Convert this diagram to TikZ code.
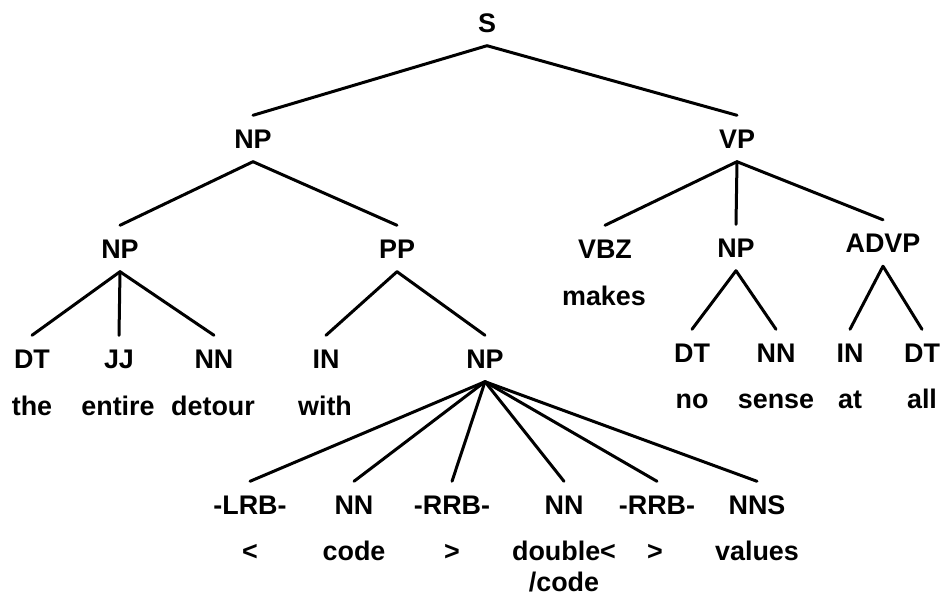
\documentclass[tikz,border=0pt]{standalone}
\usepackage{fontspec}
\setmainfont{Liberation Sans}
\begin{document}
\begin{tikzpicture}[x=1bp,y=-1bp]
\tikzset{
  lbl/.style={font=\fontsize{27}{30}\selectfont\bfseries, inner sep=0pt,
    text height=19.3bp, text depth=0pt, minimum height=46bp},
  branch/.style={line width=3bp, line cap=round}
}
\useasboundingbox[fill=white] (0,0) rectangle (944,597);
% tags
\node[lbl] (s) at (487,22.5) {S};
\node[lbl] (np1) at (253,138.5) {NP};
\node[lbl] (vp) at (737,138.5) {VP};
\node[lbl] (np2) at (120,248.5) {NP};
\node[lbl] (pp) at (397,248.5) {PP};
\node[lbl] (vbz) at (605,248.5) {VBZ};
\node[lbl] (np3) at (736,247.5) {NP};
\node[lbl] (advp) at (883,243) {ADVP};
\node[lbl] (dt1) at (32,358.5) {DT};
\node[lbl] (jj) at (119,358.5) {JJ};
\node[lbl] (nn1) at (214,358.5) {NN};
\node[lbl] (in1) at (326,358.5) {IN};
\node[lbl] (np4) at (485,358.5) {NP};
\node[lbl] (dt2) at (692,352.5) {DT};
\node[lbl] (nn2) at (776,352.5) {NN};
\node[lbl] (in2) at (850,352.5) {IN};
\node[lbl] (dt3) at (922,352.5) {DT};
\node[lbl] (lrb) at (250,504.5) {-LRB-};
\node[lbl] (nn3) at (354,504.5) {NN};
\node[lbl] (rrb1) at (452,504.5) {-RRB-};
\node[lbl] (nn4) at (564,504.5) {NN};
\node[lbl] (rrb2) at (657,504.5) {-RRB-};
\node[lbl] (nns) at (757,504.5) {NNS};
% words
\node[lbl] (wmakes) at (604,295.5) {makes};
\node[lbl] (wthe) at (32,405.5) {the};
\node[lbl] (wentire) at (118,405.5) {entire};
\node[lbl] (wdetour) at (213,405.5) {detour};
\node[lbl] (wwith) at (325,405.5) {with};
\node[lbl] (wno) at (692,398.5) {no};
\node[lbl] (wsense) at (776,398.5) {sense};
\node[lbl] (wat) at (850,398.5) {at};
\node[lbl] (wall) at (922,398.5) {all};
\node[lbl] (wlt) at (250,550.5) {<};
\node[lbl] (wcode) at (354,550.5) {code};
\node[lbl] (wgt) at (452,550.5) {>};
\node[lbl] (wdouble) at (564,550.5) {double<};
\node[lbl] (wdouble2) at (564,581.5) {/code};
\node[lbl] (wgt2) at (655,550.5) {>};
\node[lbl] (wvalues) at (757,550.5) {values};
% branches
\foreach \p/\c in {s/np1, s/vp, np1/np2, np1/pp, vp/vbz, vp/np3, vp/advp,
  np2/dt1, np2/jj, np2/nn1, pp/in1, pp/np4, np3/dt2, np3/nn2, advp/in2, advp/dt3,
  np4/lrb, np4/nn3, np4/rrb1, np4/nn4, np4/rrb2, np4/nns}
  \draw[branch] (\p.south) -- (\c.north);
\end{tikzpicture}
\end{document}
